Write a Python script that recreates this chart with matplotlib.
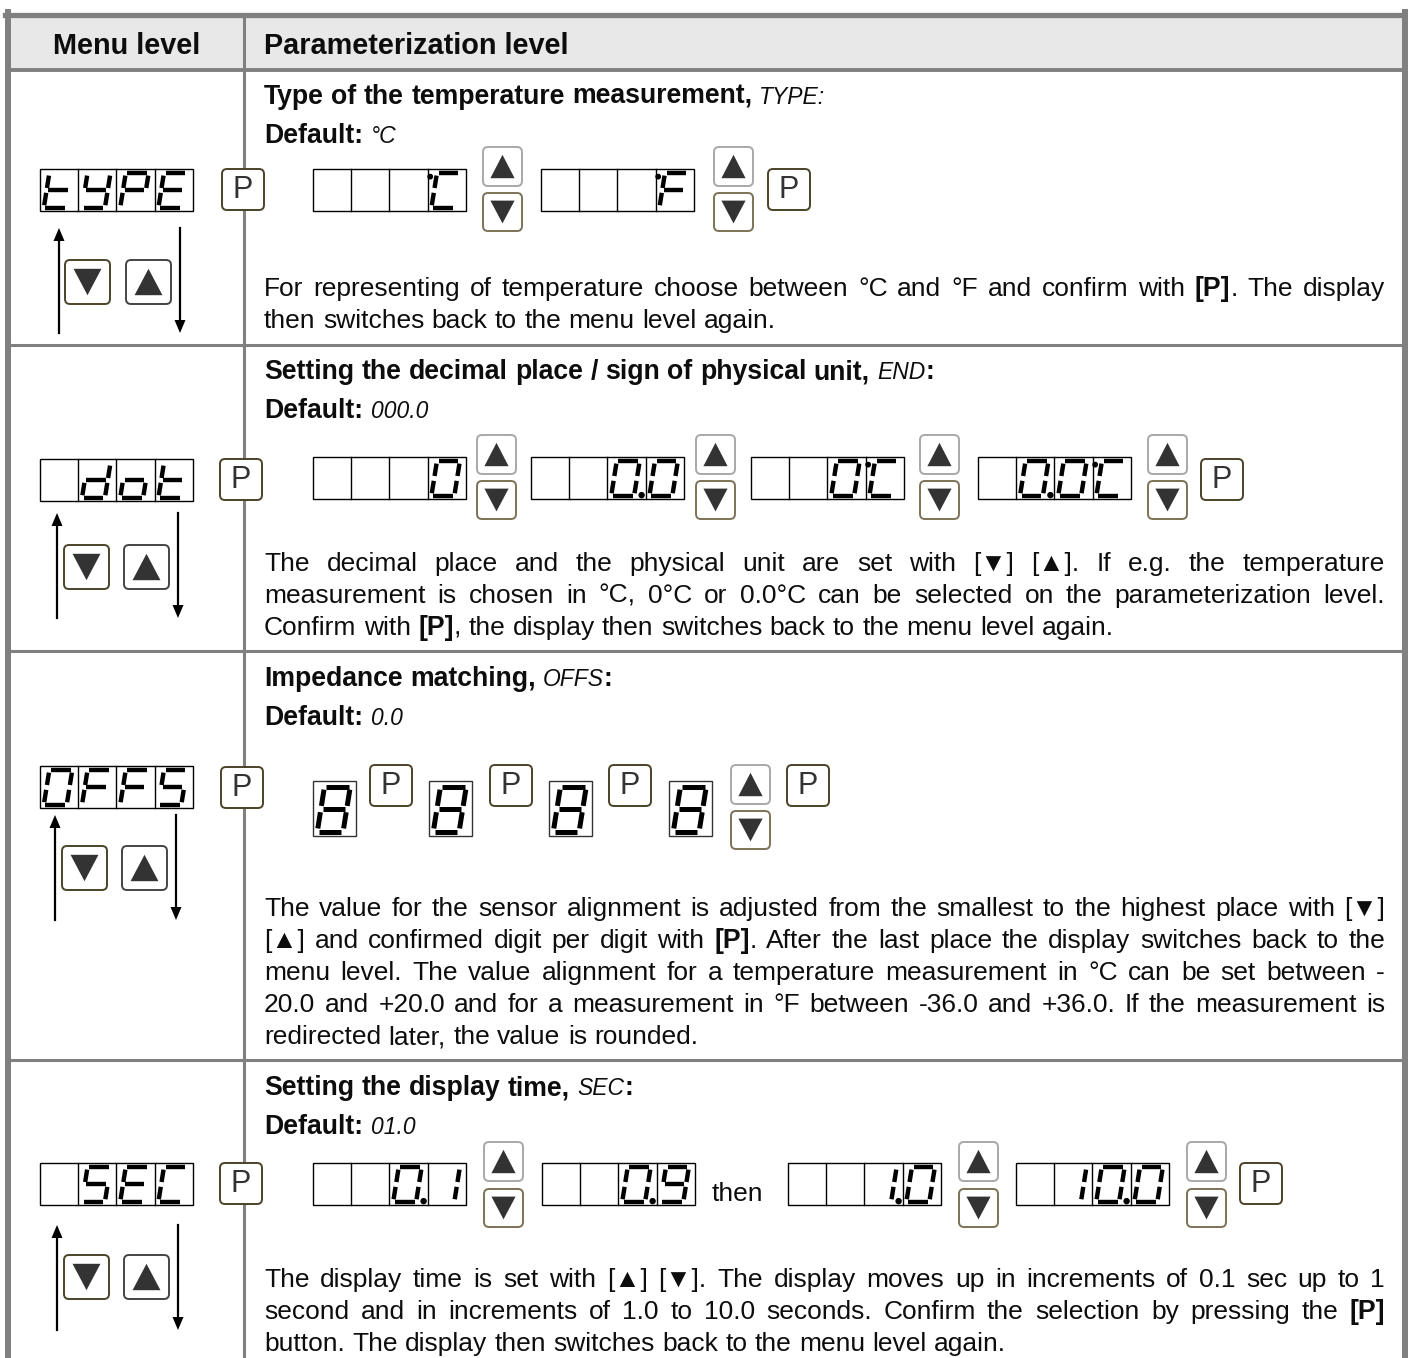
import re
import matplotlib
matplotlib.use("Agg")
import matplotlib.pyplot as plt
from matplotlib.patches import Rectangle, FancyBboxPatch, Polygon, Circle
from matplotlib import font_manager

# ---- content -------------------------------------------------------------
HEADERS = ["Menu level", "Parameterization level"]

MENU_DISPLAYS = [["t", "Y", "P", "E"],
                 ["", "d", "o", "t"],
                 ["O", "F", "F", "S"],
                 ["", "S", "E", "C"]]

TITLES = ["Type of the temperature measurement, {TYPE:}",
          "Setting the decimal place / sign of physical unit, {END}:",
          "Impedance matching, {OFFS}:",
          "Setting the display time, {SEC}:"]

DEFAULTS = ["°C", "000.0", "0.0", "01.0"]

PARAGRAPHS = [
    ["For representing of temperature choose between °C and °F and confirm with **[P]**. The display",
     "then switches back to the menu level again."],
    ["The decimal place and the physical unit are set with [▼] [▲]. If e.g. the temperature",
     "measurement is chosen in °C, 0°C or 0.0°C can be selected on the parameterization level.",
     "Confirm with **[P]**, the display then switches back to the menu level again."],
    ["The value for the sensor alignment is adjusted from the smallest to the highest place with [▼]",
     "[▲] and confirmed digit per digit with **[P]**. After the last place the display switches back to the",
     "menu level. The value alignment for a temperature measurement in °C can be set between -",
     "20.0 and +20.0 and for a measurement in °F between -36.0 and +36.0. If the measurement is",
     "redirected later, the value is rounded."],
    ["The display time is set with [▲] [▼]. The display moves up in increments of 0.1 sec up to 1",
     "second and in increments of 1.0 to 10.0 seconds. Confirm the selection by pressing the **[P]**",
     "button. The display then switches back to the menu level again."],
]

ROW1_DISPLAYS = [["", "", "", "°C"], ["", "", "", "°F"]]
ROW2_DISPLAYS = [["", "", "", "0"], ["", "", "0.", "0"],
                 ["", "", "0", "°C"], ["", "0.", "0", "°C"]]
ROW3_DIGITS = ["8", "8", "8", "8"]
ROW4_DISPLAYS = [["", "", "0.", "1"], ["", "", "0.", "9"],
                 ["", "", "1.", "0"], ["", "1", "0.", "0"]]
ROW4_WORD = "then"

# seven segment glyphs
SEGMENTS = {"0": "abcdef", "O": "abcdef", "1": "bc", "8": "abcdefg", "9": "abcdfg",
            "t": "defg", "Y": "bcdfg", "P": "abefg", "E": "adefg", "d": "bcdeg",
            "o": "cdeg", "F": "aefg", "S": "acdfg", "C": "adef"}

# ---- setup ---------------------------------------------------------------
W, H = 1408, 1358
fig = plt.figure(figsize=(W / 100, H / 100), dpi=100)
ax = fig.add_axes([0, 0, 1, 1])
ax.set_xlim(0, W)
ax.set_ylim(H, 0)
ax.axis("off")
renderer = fig.canvas.get_renderer()

names = {f.name for f in font_manager.fontManager.ttflist}
seg_font = "Liberation Sans Narrow" if "Liberation Sans Narrow" in names else "Liberation Sans"

BODY = dict(family=["Liberation Sans", "DejaVu Sans"], fontsize=19, color="#0d0d0d")
BOLD = dict(BODY, fontweight="bold", fontsize=19.2)
SEG = dict(family=[seg_font, "DejaVu Sans"], fontstyle="italic", fontsize=16.5, color="#0d0d0d")
HEAD = dict(BODY, fontweight="bold", fontsize=20.8)

TEXT_L, TEXT_R = 264, 1385
GRAY = "#808080"


def width_of(t):
    return t.get_window_extent(renderer).width


def space_of(style):
    a = ax.text(0, 0, "x x", **style)
    b = ax.text(0, 0, "xx", **style)
    w = width_of(a) - width_of(b)
    a.remove()
    b.remove()
    return w


def parse_word(word, base):
    runs = []
    for tok in re.split(r"(\*\*.+?\*\*|\{.+?\})", word):
        if not tok:
            continue
        if tok.startswith("**"):
            runs.append((tok[2:-2], BOLD if base is BODY else base))
        elif tok.startswith("{"):
            runs.append((tok[1:-1], SEG))
        else:
            runs.append((tok, base))
    return runs


def text_line(y, line, base, justify=False, x=TEXT_L, right=TEXT_R):
    words = []
    for word in line.split(" "):
        objs = []
        for s, st in parse_word(word, base):
            t = ax.text(0, y, s, ha="left", va="baseline", **st)
            objs.append((t, width_of(t)))
        words.append(objs)
    widths = [sum(w for _, w in objs) for objs in words]
    if justify and len(words) > 1:
        gap = (right - x - sum(widths)) / (len(words) - 1)
    else:
        gap = space_of(base)
    cx = x
    for objs, wt in zip(words, widths):
        rx = cx
        for t, w in objs:
            t.set_x(rx)
            rx += w
        cx += wt + gap


def seg_char(cx, cy, cw, ch, cell, lw_px=4.4):
    if not cell:
        return
    deg = cell.startswith("°")
    dot = cell.endswith(".")
    core = cell.strip("°.")
    left = cx + 0.1 * cw
    bottom = cy + ch - 0.08 * ch
    w, h, sl, g = 0.6 * cw, 0.82 * ch, 0.16, 0.07

    def pt(u, v):
        return (left + u * w + sl * v * h, bottom - v * h)

    coords = {"a": ((g, 1), (1 - g, 1)), "b": ((1, 1 - g), (1, 0.5 + g)),
              "c": ((1, 0.5 - g), (1, g)), "d": ((g, 0), (1 - g, 0)),
              "e": ((0, 0.5 - g), (0, g)), "f": ((0, 1 - g), (0, 0.5 + g)),
              "g": ((g, 0.5), (1 - g, 0.5))}
    for s in SEGMENTS.get(core, ""):
        p1, p2 = pt(*coords[s][0]), pt(*coords[s][1])
        ax.plot([p1[0], p2[0]], [p1[1], p2[1]], color="black",
                lw=lw_px * 0.72, solid_capstyle="butt", zorder=4)
    if dot:
        ax.add_patch(Circle((cx + cw - 4, bottom - 0.5), 2.5, color="black", zorder=4))
    if deg:
        ax.add_patch(Circle(pt(-0.27, 0.9), 2.2, color="black", zorder=4))


def display(x0, y0, cells, cw=38.2, ch=42):
    n = len(cells)
    ax.add_patch(Rectangle((x0, y0), cw * n, ch, fill=False, ec="black", lw=1.0, zorder=3))
    for i in range(1, n):
        ax.plot([x0 + i * cw] * 2, [y0, y0 + ch], color="black", lw=1.0, zorder=3)
    for i, c in enumerate(cells):
        seg_char(x0 + i * cw, y0, cw, ch, c)


def big_digit(x0, y0, c, cw=43, ch=55):
    ax.add_patch(Rectangle((x0, y0), cw, ch, fill=False, ec="#333333", lw=1.0, zorder=3))
    seg_char(x0, y0, cw, ch, c, lw_px=5.0)


def p_button(x, y, w=42, h=41):
    ax.add_patch(FancyBboxPatch((x, y), w, h, boxstyle="round,pad=0,rounding_size=5",
                                fc="white", ec="#4b4227", lw=1.4, zorder=5))
    ax.text(x + w / 2, y + h / 2 + 1, "P", ha="center", va="center", fontsize=22,
            color="#333333", family=["Liberation Sans", "DejaVu Sans"], zorder=6)


def arrow_button(x, y, w, h, up, ec):
    ax.add_patch(FancyBboxPatch((x, y), w, h, boxstyle="round,pad=0,rounding_size=5",
                                fc="white", ec=ec, lw=1.4, zorder=5))
    mx = 0.19 * w
    top, bot = y + 0.2 * h, y + 0.8 * h
    if up:
        pts = [(x + mx, bot), (x + w - mx, bot), (x + w / 2, top)]
    else:
        pts = [(x + mx, top), (x + w - mx, top), (x + w / 2, bot)]
    ax.add_patch(Polygon(pts, closed=True, fc="#333333", ec="none", zorder=6))


def up_down(x, y_up, y_down):
    arrow_button(x, y_up, 39, 39, True, "#a8a8a8")
    arrow_button(x, y_down, 39, 38, False, "#7c7356")


def menu_arrows(xl, xr, ytop, ybot, by, bxl, bxr):
    ax.plot([xl, xl], [ybot, ytop + 10], color="black", lw=1.6)
    ax.add_patch(Polygon([(xl - 5.5, ytop + 13), (xl + 5.5, ytop + 13), (xl, ytop)], fc="black"))
    ax.plot([xr, xr], [ytop, ybot - 10], color="black", lw=1.6)
    ax.add_patch(Polygon([(xr - 5.5, ybot - 13), (xr + 5.5, ybot - 13), (xr, ybot)], fc="black"))
    arrow_button(bxl, by, 45, 44, False, "#4a4428")
    arrow_button(bxr, by, 45, 44, True, "#444444")


# ---- table frame ---------------------------------------------------------
ax.add_patch(Rectangle((8, 14), 1397, 56, fc="#e8e8e8", ec="none", zorder=0))
ax.plot([5, 1408], [14.5, 14.5], color=GRAY, lw=3.8, zorder=2)
ax.plot([8, 8], [12, H], color=GRAY, lw=4.3, zorder=2)
ax.plot([1405, 1405], [12, H], color=GRAY, lw=4.3, zorder=2)
ax.plot([8, 1405], [70, 70], color=GRAY, lw=2.8, zorder=2)
ax.plot([244, 244], [14, H], color=GRAY, lw=2.2, zorder=2)
for yl in [345, 651, 1060]:
    ax.plot([8, 1405], [yl, yl], color=GRAY, lw=2.2, zorder=2)

ax.text(127, 54, HEADERS[0], ha="center", va="baseline", **HEAD)
ax.text(264, 54, HEADERS[1], ha="left", va="baseline", **HEAD)

# ---- text per row --------------------------------------------------------
title_y = [104, 379, 686, 1095]
para_y = [296, 571, 916, 1287]
for i in range(4):
    text_line(title_y[i], TITLES[i], BOLD)
    text_line(title_y[i] + 39, "Default: {" + DEFAULTS[i] + "}", BOLD)
    lines = PARAGRAPHS[i]
    for k, line in enumerate(lines):
        text_line(para_y[i] + 32 * k, line, BODY, justify=(k < len(lines) - 1))

# ---- menu level column ---------------------------------------------------
menu_disp_y = [169, 459, 766, 1163]
menu_p = [(222, 169), (220, 459), (221, 767), (220, 1163)]
menu_arr = [(59, 180, 228, 333, 260, 65, 126),
            (57, 178, 513, 618, 545, 64, 124),
            (55, 176, 815, 920, 846, 62, 122),
            (57, 178, 1225, 1330, 1255, 64, 124)]
for i in range(4):
    display(40, menu_disp_y[i], MENU_DISPLAYS[i])
    p_button(*menu_p[i])
    menu_arrows(*menu_arr[i])

# ---- row 1 ---------------------------------------------------------------
display(313, 169, ROW1_DISPLAYS[0])
up_down(483, 147, 193)
display(541, 169, ROW1_DISPLAYS[1])
up_down(714, 147, 193)
p_button(768, 169)

# ---- row 2 ---------------------------------------------------------------
for k, (x, ud) in enumerate(zip([313, 531, 751, 978], [477, 696, 920, 1148])):
    display(x, 457, ROW2_DISPLAYS[k])
    up_down(ud, 435, 481)
p_button(1201, 459)

# ---- row 3 ---------------------------------------------------------------
for k, x in enumerate([313, 429, 549, 669]):
    big_digit(x, 781, ROW3_DIGITS[k])
for x in [370, 490, 609]:
    p_button(x, 765)
up_down(731, 765, 811)
p_button(787, 765)

# ---- row 4 ---------------------------------------------------------------
for k, (x, ud) in enumerate(zip([313, 542, 788, 1016], [484, None, 959, 1187])):
    display(x, 1163, ROW4_DISPLAYS[k])
    if ud is not None:
        up_down(ud, 1142, 1189)
ax.text(712, 1201, ROW4_WORD, ha="left", va="baseline", **BODY)
p_button(1240, 1163)

fig.savefig("out.png", dpi=100, facecolor="white")
